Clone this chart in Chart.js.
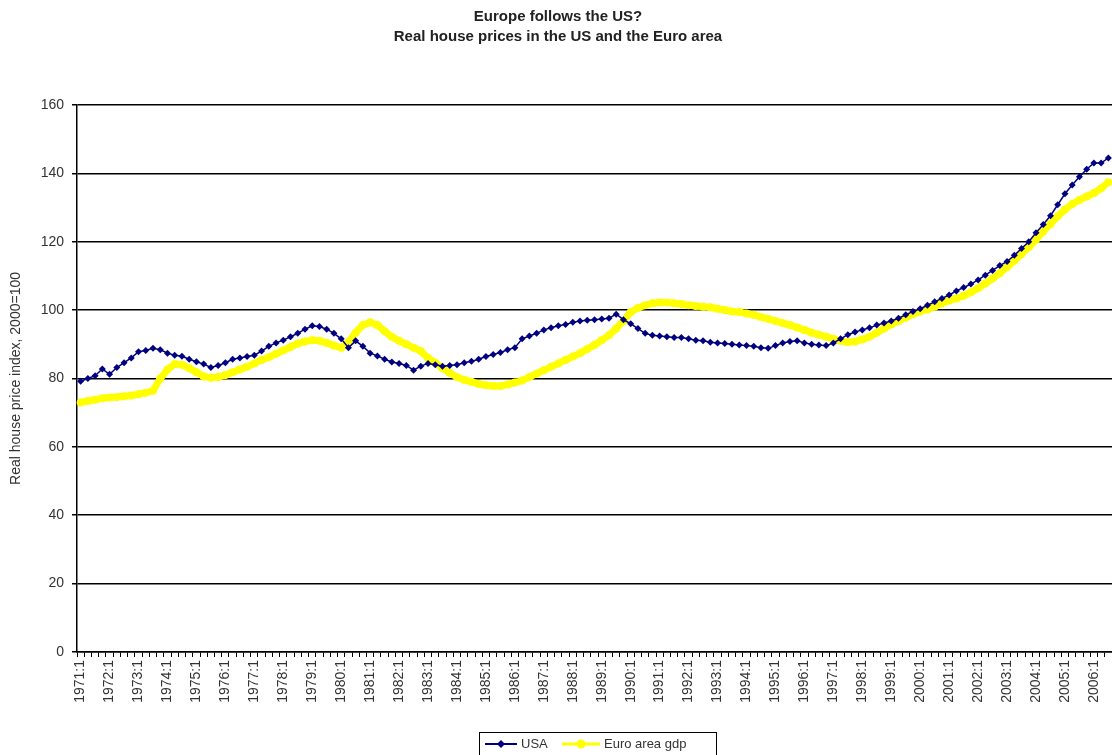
<!DOCTYPE html>
<html>
<head>
<meta charset="utf-8">
<script src="https://cdn.jsdelivr.net/npm/chart.js@4/dist/chart.umd.min.js"></script>
<style>
  html, body { margin: 0; padding: 0; background: #fff; overflow: hidden; }
  #wrap { width: 1116px; height: 755px; position: relative; }
</style>
</head>
<body>
<div id="wrap"><canvas id="chart_house"></canvas></div>
<script>
// quarterly categories, 1971:1 .. 2006:3
const firstYear = 1971;
const lastYear = 2006;
const lastQuarter = 3;
const quarters = [];
for (let y = firstYear; y <= lastYear; y++) {
  for (let q = 1; q <= 4; q++) {
    if (y === lastYear && q > lastQuarter) break;
    quarters.push(y + ':' + q);
  }
}

const usa = [
  79.2, 80.0, 80.8, 82.8, 81.2, 83.2, 84.6, 86.0, 87.8, 88.2,
  88.8, 88.4, 87.4, 86.8, 86.5, 85.6, 84.9, 84.2, 83.2, 83.8,
  84.6, 85.6, 86.0, 86.4, 86.8, 88.0, 89.4, 90.4, 91.2, 92.2,
  93.2, 94.4, 95.4, 95.2, 94.4, 93.2, 91.6, 89.0, 91.0, 89.4,
  87.4, 86.6, 85.6, 84.8, 84.4, 83.8, 82.4, 83.6, 84.4, 84.0,
  83.6, 83.8, 84.0, 84.6, 85.0, 85.6, 86.4, 87.0, 87.6, 88.4,
  89.0, 91.6, 92.4, 93.2, 94.2, 94.8, 95.4, 95.8, 96.4, 96.8,
  97.0, 97.2, 97.4, 97.6, 98.8, 97.2, 96.0, 94.6, 93.2, 92.6,
  92.4, 92.2, 92.0, 92.0, 91.6, 91.2, 91.0, 90.6, 90.4, 90.2,
  90.0, 89.8, 89.6, 89.4, 89.0, 88.8, 89.6, 90.4, 90.8, 91.0,
  90.4, 90.0, 89.8, 89.6, 90.4, 91.6, 92.8, 93.6, 94.2, 94.8,
  95.6, 96.2, 96.8, 97.6, 98.6, 99.6, 100.4, 101.4, 102.4, 103.4,
  104.4, 105.6, 106.6, 107.6, 108.8, 110.2, 111.6, 113.0, 114.2, 116.0,
  118.0, 120.0, 122.6, 125.0, 127.6, 130.8, 134.0, 136.6, 139.0, 141.2,
  143.0, 143.0, 144.5
];

const euro = [
  73.0, 73.4, 73.8, 74.2, 74.4, 74.6, 74.8, 75.0, 75.4, 75.8,
  76.4, 80.0, 82.6, 84.2, 84.0, 83.0, 81.8, 80.6, 80.2, 80.4,
  81.0, 81.8, 82.6, 83.4, 84.4, 85.4, 86.2, 87.2, 88.2, 89.2,
  90.2, 90.8, 91.2, 91.0, 90.4, 89.6, 89.0, 90.6, 93.4, 95.6,
  96.4, 95.6, 93.8, 92.2, 91.0, 90.0, 89.0, 88.0, 86.0, 84.6,
  83.0, 81.6, 80.4, 79.6, 79.0, 78.4, 78.0, 77.8, 77.8, 78.2,
  78.8, 79.4, 80.4, 81.4, 82.4, 83.4, 84.4, 85.4, 86.4, 87.4,
  88.6, 89.8, 91.2, 92.6, 94.6, 96.8, 99.4, 100.6, 101.4, 102.0,
  102.2, 102.2, 102.0, 101.8, 101.4, 101.2, 101.0, 100.8, 100.4, 100.0,
  99.6, 99.4, 99.0, 98.6, 98.0, 97.4, 96.8, 96.2, 95.6, 94.9,
  94.2, 93.4, 92.8, 92.2, 91.6, 91.0, 90.6, 90.8, 91.4, 92.2,
  93.4, 94.6, 95.8, 96.8, 97.8, 98.8, 99.6, 100.2, 101.0, 102.0,
  102.8, 103.4, 104.2, 105.2, 106.4, 107.8, 109.2, 110.8, 112.6, 114.4,
  116.4, 118.4, 120.6, 123.0, 125.2, 127.4, 129.4, 131.0, 132.2, 133.2,
  134.2, 135.6, 137.4
];

const yTicks = [0, 20, 40, 60, 80, 100, 120, 140, 160];

const navy = '#000080';
const yellow = '#ffff00';
const fontFamily = '"Liberation Sans", Arial, sans-serif';

// legend drawn like the excel box at the bottom
const boxLegend = {
  id: 'boxLegend',
  afterDraw(chart) {
    const ctx = chart.ctx;
    ctx.save();
    ctx.strokeStyle = '#000';
    ctx.lineWidth = 1;
    ctx.strokeRect(479.5, 732.5, 237, 30);
    const cy = 744;
    // USA
    ctx.strokeStyle = navy;
    ctx.lineWidth = 2;
    ctx.beginPath(); ctx.moveTo(485, cy); ctx.lineTo(517, cy); ctx.stroke();
    ctx.fillStyle = navy;
    ctx.beginPath();
    ctx.moveTo(501, cy - 4); ctx.lineTo(505, cy); ctx.lineTo(501, cy + 4); ctx.lineTo(497, cy);
    ctx.closePath(); ctx.fill();
    // Euro
    ctx.strokeStyle = yellow;
    ctx.lineWidth = 3;
    ctx.beginPath(); ctx.moveTo(562, cy); ctx.lineTo(600, cy); ctx.stroke();
    ctx.fillStyle = yellow;
    ctx.beginPath(); ctx.arc(581, cy, 4.5, 0, Math.PI * 2); ctx.fill();
    ctx.fillStyle = '#333';
    ctx.font = '13px ' + fontFamily;
    ctx.textBaseline = 'middle';
    ctx.fillText('USA', 521, cy);
    ctx.fillText('Euro area gdp', 604, cy);
    ctx.restore();
  }
};

Chart.defaults.font.family = fontFamily;

const houseChart = new Chart(document.getElementById('chart_house'), {
  type: 'line',
  data: {
    labels: quarters,
    datasets: [
      {
        label: 'USA',
        data: usa,
        borderColor: navy,
        backgroundColor: navy,
        borderWidth: 1.5,
        pointStyle: 'rectRot',
        pointRadius: 3.5,
        pointBorderWidth: 0,
        tension: 0
      },
      {
        label: 'Euro area gdp',
        data: euro,
        borderColor: yellow,
        backgroundColor: yellow,
        borderWidth: 7,
        pointStyle: 'circle',
        pointRadius: 4,
        pointBorderWidth: 0,
        tension: 0
      }
    ]
  },
  options: {
    responsive: true,
    maintainAspectRatio: false,
    animation: false,
    devicePixelRatio: 1,
    layout: { padding: { top: 0, right: 0, bottom: 0, left: 0 } },
    plugins: {
      legend: { display: false },
      tooltip: { enabled: false },
      title: {
        display: true,
        text: ['Europe follows the US?', 'Real house prices in the US and the Euro area'],
        color: '#222',
        font: { size: 15, weight: 'bold', lineHeight: 1.33 },
        padding: { top: 7, bottom: 58 }
      }
    },
    scales: {
      x: {
        type: 'category',
        offset: true,
        afterFit(scale) {
          scale.height = 103;
          scale.paddingRight = 0;
          scale.paddingLeft = 0;
        },
        border: { color: '#000', width: 1.5 },
        grid: {
          display: true,
          offset: true,
          drawOnChartArea: false,
          drawTicks: true,
          tickLength: 5,
          color: '#000',
          lineWidth: 1
        },
        ticks: {
          autoSkip: false,
          minRotation: 90,
          maxRotation: 90,
          padding: 3,
          color: '#333',
          font: { size: 14 },
          callback(value, index) {
            const lab = quarters[index];
            return lab.endsWith(':1') ? lab : '';
          }
        }
      },
      y: {
        min: 0,
        max: 160,
        afterFit(scale) { scale.width = 77; },
        afterBuildTicks(scale) { scale.ticks = yTicks.map(v => ({ value: v })); },
        border: { color: '#000', width: 1.5 },
        grid: {
          color: '#000',
          lineWidth: 1.5,
          tickLength: 5
        },
        ticks: {
          color: '#333',
          padding: 8,
          font: { size: 14 }
        },
        title: {
          display: true,
          text: 'Real house price index, 2000=100',
          color: '#333',
          font: { size: 14 },
          padding: { top: 8, bottom: 0 }
        }
      }
    }
  },
  plugins: [boxLegend]
});
</script>
</body>
</html>
